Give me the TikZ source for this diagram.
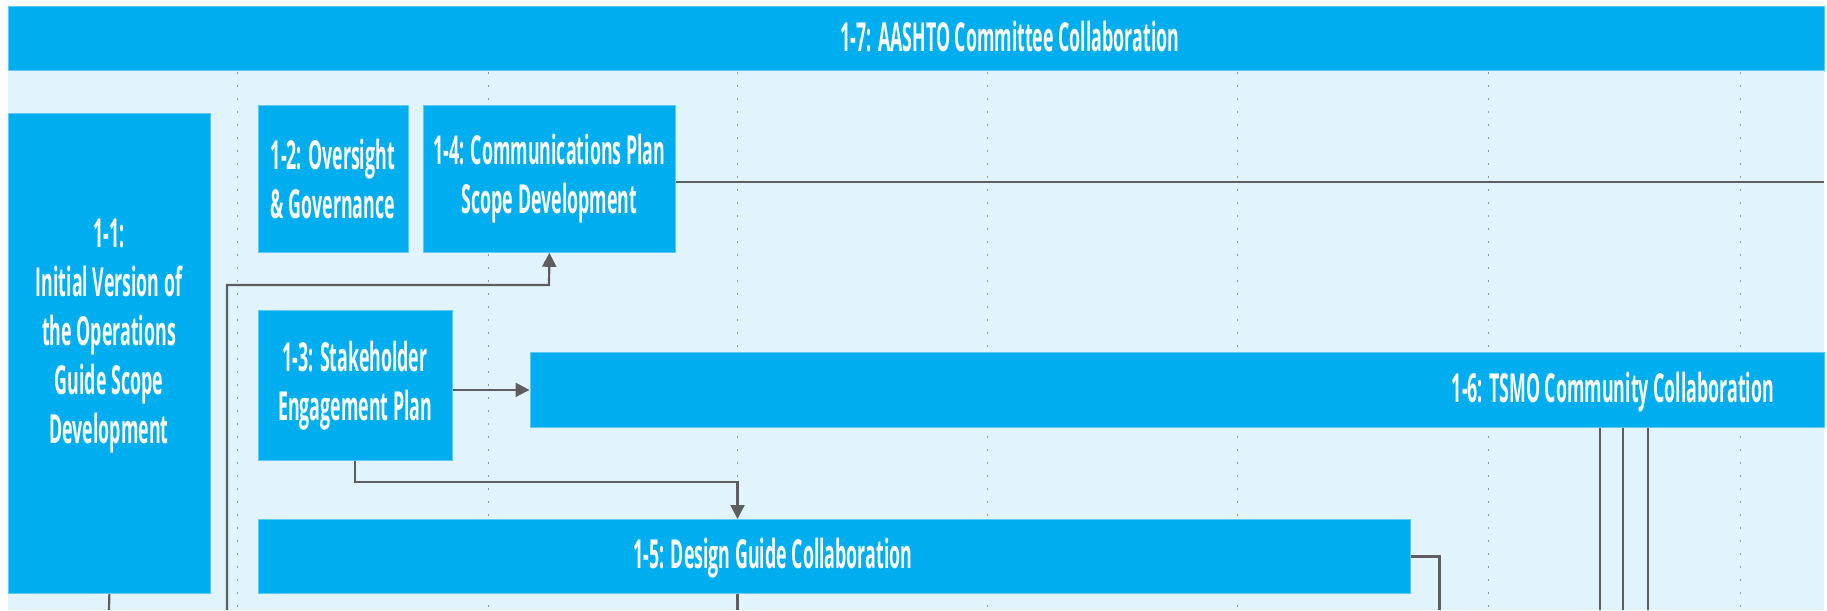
\documentclass[tikz,border=0pt]{standalone}
\usepackage{fontspec}
\setmainfont{Open Sans}[FakeStretch=0.45, BoldFeatures={FakeStretch=0.445}]
\usetikzlibrary{arrows.meta}
\definecolor{cyanbox}{HTML}{00AEEF}
\definecolor{paleblue}{HTML}{E1F3FD}
\definecolor{linegray}{HTML}{5E5E5E}
\definecolor{gridgray}{HTML}{9A9A9A}
\definecolor{edgeblue}{HTML}{5CCBF3}
\begin{document}
\begin{tikzpicture}[x=1pt,y=-1pt,
  boxstyle/.style={fill=cyanbox, draw=edgeblue, line width=0.8pt, inner sep=0pt, anchor=north west},
  lbl/.style={text=white, font=\fontsize{40}{49}\selectfont\bfseries, align=center, inner sep=0pt},
  conn/.style={draw=linegray, line width=2.2pt},
  thinconn/.style={draw=linegray, line width=1.4pt},
  arr/.style={conn, -{Triangle[length=14pt,width=14pt]}},
  gridline/.style={draw=gridgray, line width=1pt, dash pattern=on 2pt off 11pt}]
\useasboundingbox (0,0) rectangle (1827,610);
\fill[white] (0,0) rectangle (1827,610);
\fill[paleblue] (8,70) rectangle (1824,610);
% grid lines
\foreach \gx in {237,488,737.5,987.5,1237,1488,1740}
  \draw[gridline] (\gx,72) -- (\gx,610);
% top band
\node[boxstyle, minimum width=1816pt, minimum height=64pt] (n17) at (8,6) {};
\node[lbl] (t17) at (1010,37) {1-7: AASHTO Committee Collaboration};
% boxes
\node[boxstyle, minimum width=202pt, minimum height=480pt] (n11) at (8,113) {};
\node[lbl] (t11) at (109,336) {1-1:\\Initial Version of\\the Operations\\Guide Scope\\Development};
\node[boxstyle, minimum width=150pt, minimum height=147pt, lbl] (n12) at (257.5,105) {1-2: Oversight\\\& Governance};
\node[boxstyle, minimum width=252pt, minimum height=147pt, lbl] (n14) at (423,105) {1-4: Communications Plan\\Scope Development};
\node[boxstyle, minimum width=194.5pt, minimum height=150pt, lbl] (n13) at (257.5,310) {1-3: Stakeholder\\Engagement Plan};
\node[boxstyle, minimum width=1294.5pt, minimum height=75pt] (n16) at (529.5,352) {};
\node[lbl] (t16) at (1613,392) {1-6: TSMO Community Collaboration};
\node[boxstyle, minimum width=1152.5pt, minimum height=74pt] (n15) at (257.5,519) {};
\node[lbl] (t15) at (773,558) {1-5: Design Guide Collaboration};
% coordinates
\coordinate (c1) at (227,610);
\coordinate (j14) at (549,285);
\coordinate (e14) at (1824,182);
\coordinate (k1) at (737.5,482);
\coordinate (b11) at (109,610);
\coordinate (r15) at (1439.5,610);
\coordinate (b61) at (1600,610);
\coordinate (b62) at (1622.7,610);
\coordinate (b63) at (1648,610);
% connectors
\draw[arr] (c1) |- (j14) -- (n14.south);
\draw[conn] (n14.east |- e14) -- (e14);
\draw[arr] (n13.east |- n16.west) -- (n16.west);
\draw[arr] (n13.south) |- (k1) -- (k1 |- n15.north);
\draw[conn] (n11.south) -- (b11);
\draw[conn] (k1 |- n15.south) -- (k1 |- b11);
\draw[conn] (n15.east) -| (r15);
\draw[thinconn] (b61 |- n16.south) -- (b61);
\draw[conn] (b62 |- n16.south) -- (b62);
\draw[thinconn] (b63 |- n16.south) -- (b63);
\end{tikzpicture}
\end{document}
